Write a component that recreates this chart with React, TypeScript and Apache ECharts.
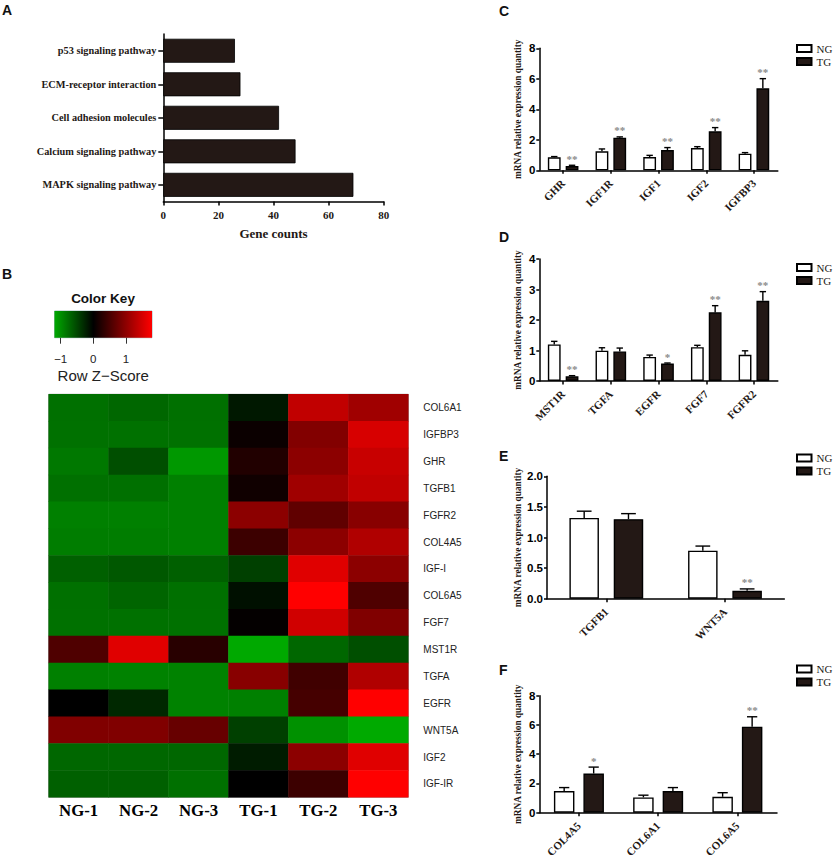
import * as echarts from "echarts";
import { useEffect, useRef } from "react";

const SERIF = "'Liberation Serif'";
const SANS = "'Liberation Sans'";
const INK = "#231815";

// panel A
const pathways = ["MAPK signaling pathway", "Calcium signaling pathway", "Cell adhesion molecules", "ECM-receptor interaction", "p53 signaling pathway"];
const geneCounts = [69, 48, 42, 28, 26];

// panel B
const samples = ["NG-1", "NG-2", "NG-3", "TG-1", "TG-2", "TG-3"];
const heatGenes = ["COL6A1", "IGFBP3", "GHR", "TGFB1", "FGFR2", "COL4A5", "IGF-I", "COL6A5", "FGF7", "MST1R", "TGFA", "EGFR", "WNT5A", "IGF2", "IGF-IR"];
const zScores = [
  [-0.79, -0.73, -0.79, -0.17, 1.36, 1.13],
  [-0.8, -0.8, -0.8, 0.08, 0.92, 1.52],
  [-0.85, -0.56, -1.07, 0.23, 0.99, 1.41],
  [-0.79, -0.79, -0.9, 0.11, 1.13, 1.36],
  [-0.9, -0.9, -0.9, 0.99, 0.68, 0.96],
  [-0.88, -0.88, -0.9, 0.42, 0.99, 1.24],
  [-0.68, -0.62, -0.68, -0.45, 1.58, 0.99],
  [-0.79, -0.71, -0.79, -0.11, 1.8, 0.56],
  [-0.8, -0.8, -0.8, 0.03, 1.47, 0.9],
  [0.56, 1.58, 0.28, -1.19, -0.73, -0.56],
  [-0.9, -0.92, -0.92, 0.96, 0.45, 1.24],
  [0, -0.28, -0.92, -0.9, 0.49, 1.8],
  [0.9, 0.9, 0.73, -0.45, -1.02, -1.2],
  [-0.73, -0.73, -0.73, -0.2, 0.99, 1.58],
  [-0.68, -0.68, -0.79, 0, 0.42, 1.8],
];
const keyRange = [-1.19, 1.8];
const keyTicks = [-1, 0, 1];

// panel C
const cGenes = ["GHR", "IGF1R", "IGF1", "IGF2", "IGFBP3"];
const cNG = [0.85, 1.25, 0.87, 1.46, 1.09];
const cNGTop = [0.9, 1.4, 0.98, 1.55, 1.16];
const cTG = [0.28, 2.14, 1.33, 2.56, 5.38];
const cTGTop = [0.33, 2.19, 1.49, 2.8, 6.01];
const cStars = ["**", "**", "**", "**", "**"];

// panel D
const dGenes = ["MST1R", "TGFA", "EGFR", "FGF7", "FGFR2"];
const dNG = [1.2, 0.995, 0.79, 1.11, 0.86];
const dNGTop = [1.3, 1.09, 0.85, 1.17, 0.99];
const dTG = [0.153, 0.97, 0.57, 2.25, 2.63];
const dTGTop = [0.175, 1.08, 0.59, 2.47, 2.93];
const dStars = ["**", "", "*", "**", "**"];

// panel E
const eGenes = ["TGFB1", "WNT5A"];
const eNG = [1.32, 0.785];
const eNGTop = [1.43, 0.86];
const eTG = [1.3, 0.13];
const eTGTop = [1.39, 0.16];
const eStars = ["", "**"];

// panel F
const fGenes = ["COL4A5", "COL6A1", "COL6A5"];
const fNG = [1.48, 1.05, 1.09];
const fNGTop = [1.72, 1.2, 1.37];
const fTG = [2.68, 1.48, 5.88];
const fTGTop = [3.12, 1.72, 6.56];
const fStars = ["*", "", "**"];

const errorSeries = (grid: number, values: number[], tops: number[], stars: string[], offset: number, cap: number) => ({
  type: "custom",
  xAxisIndex: grid,
  yAxisIndex: grid,
  z: 5,
  silent: true,
  clip: false,
  data: values.map((v, i) => [i, v, tops[i]]),
  renderItem: (params: any, api: any) => {
    const base = api.coord([api.value(0), api.value(1)]);
    const top = api.coord([api.value(0), api.value(2)]);
    const x = base[0] + offset;
    const style = { stroke: "#000", lineWidth: 1.4 };
    const children: any[] = [
      { type: "line", shape: { x1: x, y1: base[1], x2: x, y2: top[1] }, style },
      { type: "line", shape: { x1: x - cap / 2, y1: top[1], x2: x + cap / 2, y2: top[1] }, style },
    ];
    const star = stars[params.dataIndex];
    if (star) {
      children.push({
        type: "text",
        style: { text: star, x, y: top[1] - 1, fill: "#8a8a8a", font: `bold 11px ${SERIF}`, align: "center", verticalAlign: "bottom" },
      });
    }
    return { type: "group", children };
  },
});

interface BarPanel {
  box: [number, number, number, number];
  genes: string[];
  ng: number[];
  ngTop: number[];
  tg: number[];
  tgTop: number[];
  stars: string[];
  max: number;
  interval: number;
  digits: number;
  barWidth: number;
  gap: number;
  nameGap: number;
  legendTop: number;
}

const panels: BarPanel[] = [
  { box: [539.3, 48.3, 238.5, 122], genes: cGenes, ng: cNG, ngTop: cNGTop, tg: cTG, tgTop: cTGTop, stars: cStars, max: 8, interval: 2, digits: 0, barWidth: 12.8, gap: 5, nameGap: 16.6, legendTop: 43 },
  { box: [539.3, 259, 238.5, 122], genes: dGenes, ng: dNG, ngTop: dNGTop, tg: dTG, tgTop: dTGTop, stars: dStars, max: 4, interval: 1, digits: 0, barWidth: 12.8, gap: 5, nameGap: 16.6, legendTop: 262 },
  { box: [547, 476.3, 237.3, 122.4], genes: eGenes, ng: eNG, ngTop: eNGTop, tg: eTG, tgTop: eTGTop, stars: eStars, max: 2, interval: 0.5, digits: 1, barWidth: 29.5, gap: 14.8, nameGap: 24.3, legendTop: 452.5 },
  { box: [539.3, 695.7, 237.7, 122.3], genes: fGenes, ng: fNG, ngTop: fNGTop, tg: fTG, tgTop: fTGTop, stars: fStars, max: 8, interval: 2, digits: 0, barWidth: 20.5, gap: 9, nameGap: 16.6, legendTop: 663.5 },
];

const axisLine = { show: true, lineStyle: { color: "#000", width: 1.5 } };
const axisTick = (length: number) => ({ show: true, length, lineStyle: { color: "#000", width: 1.5 } });

const buildOption = () => {
  const grids: any[] = [];
  const xAxes: any[] = [];
  const yAxes: any[] = [];
  const series: any[] = [];
  const legends: any[] = [];

  panels.forEach((p, i) => {
    grids.push({ left: p.box[0], top: p.box[1], width: p.box[2], height: p.box[3] });
    xAxes.push({
      type: "category",
      gridIndex: i,
      data: p.genes,
      axisLine,
      axisTick: { ...axisTick(3.5), alignWithLabel: true },
      axisLabel: { rotate: 45, margin: 11, interval: 0, color: INK, fontFamily: SERIF, fontWeight: "bold", fontSize: 11 },
    });
    yAxes.push({
      type: "value",
      gridIndex: i,
      min: 0,
      max: p.max,
      interval: p.interval,
      splitLine: { show: false },
      axisLine,
      axisTick: axisTick(3),
      axisLabel: { margin: 4, color: "#000", fontFamily: SANS, fontWeight: "bold", fontSize: 11.5, formatter: (v: number) => v.toFixed(p.digits) },
      name: "mRNA relative expression quantity",
      nameLocation: "middle",
      nameRotate: 90,
      nameGap: p.nameGap,
      nameTextStyle: { color: INK, fontFamily: SERIF, fontWeight: "bold", fontSize: 9.3 },
    });
    const offset = (p.barWidth + p.gap) / 2;
    const barGap = `${(p.gap / p.barWidth) * 100}%`;
    series.push(
      {
        name: "NG",
        type: "bar",
        xAxisIndex: i,
        yAxisIndex: i,
        barWidth: p.barWidth,
        barGap,
        data: p.ng,
        itemStyle: { color: "#fff", borderColor: "#000", borderWidth: 1.4 },
      },
      {
        name: "TG",
        type: "bar",
        xAxisIndex: i,
        yAxisIndex: i,
        barWidth: p.barWidth,
        barGap,
        data: p.tg,
        itemStyle: { color: INK, borderColor: "#000", borderWidth: 1.4 },
      },
      errorSeries(i, p.ng, p.ngTop, p.ng.map(() => ""), -offset, p.barWidth / 2),
      errorSeries(i, p.tg, p.tgTop, p.stars, offset, p.barWidth / 2),
    );
    legends.push({
      data: ["NG", "TG"],
      orient: "vertical",
      left: 796,
      top: p.legendTop,
      icon: "rect",
      itemWidth: 14.5,
      itemHeight: 7,
      itemGap: 2,
      padding: 0,
      selectedMode: false,
      textStyle: { color: INK, fontFamily: SERIF, fontSize: 11 },
    });
  });

  // panel A, grid 4
  grids.push({ left: 163.3, top: 34, width: 220.4, height: 167.6 });
  xAxes.push({
    type: "value",
    gridIndex: 4,
    min: 0,
    max: 80,
    interval: 20,
    splitLine: { show: false },
    axisLine,
    axisTick: axisTick(4),
    axisLabel: { margin: 8, color: INK, fontFamily: SERIF, fontWeight: "bold", fontSize: 11 },
    name: "Gene counts",
    nameLocation: "middle",
    nameGap: 25.5,
    nameTextStyle: { color: INK, fontFamily: SERIF, fontWeight: "bold", fontSize: 13 },
  });
  yAxes.push({
    type: "category",
    gridIndex: 4,
    data: pathways,
    axisLine,
    axisTick: { ...axisTick(5), alignWithLabel: true },
    axisLabel: { margin: 7, interval: 0, color: INK, fontFamily: SERIF, fontWeight: "bold", fontSize: 10.3 },
  });
  series.push({
    type: "bar",
    xAxisIndex: 4,
    yAxisIndex: 4,
    barWidth: 24,
    data: geneCounts,
    itemStyle: { color: INK, borderColor: "#000", borderWidth: 0.8 },
  });

  // panel B heatmap, grid 5
  grids.push({ left: 48.7, top: 394.3, width: 359.6, height: 403, show: true, borderColor: "#999", borderWidth: 1 });
  xAxes.push({
    type: "category",
    gridIndex: 5,
    data: samples,
    axisLine: { show: false },
    axisTick: { show: false },
    axisLabel: { margin: 5, interval: 0, color: "#000", fontFamily: SERIF, fontWeight: "bold", fontSize: 16.8 },
  });
  yAxes.push({
    type: "category",
    gridIndex: 5,
    data: heatGenes,
    inverse: true,
    position: "right",
    axisLine: { show: false },
    axisTick: { show: false },
    axisLabel: { margin: 15, interval: 0, color: "#222", fontFamily: SANS, fontSize: 10 },
  });
  const heatSeriesIndex = series.length;
  const heatData: number[][] = [];
  zScores.forEach((row, r) => row.forEach((z, c) => heatData.push([c, r, z])));
  series.push({
    type: "heatmap",
    xAxisIndex: 5,
    yAxisIndex: 5,
    data: heatData,
    silent: true,
  });

  // colour key, grid 6
  grids.push({ left: 54.5, top: 311, width: 97.5, height: 26.7, show: true, borderColor: "#5a8a8a", borderWidth: 0.6 });
  xAxes.push({
    type: "value",
    gridIndex: 6,
    min: keyRange[0],
    max: keyRange[1],
    splitLine: { show: false },
    axisLine: { show: false },
    axisTick: { show: true, length: 6, customValues: keyTicks, lineStyle: { color: "#333", width: 1 } },
    axisLabel: {
      margin: 15,
      customValues: keyTicks,
      color: "#222",
      fontFamily: SANS,
      fontSize: 11.5,
      formatter: (v: number) => String(v).replace("-", "\u2212"),
    },
    name: "Row Z\u2212Score",
    nameLocation: "middle",
    nameGap: 30,
    nameTextStyle: { color: "#222", fontFamily: SANS, fontSize: 15 },
  });
  yAxes.push({ type: "value", gridIndex: 6, min: 0, max: 1, show: false });
  const greenEnd = Math.round((-keyRange[0] / keyRange[1]) * 255);
  series.push({
    type: "custom",
    xAxisIndex: 6,
    yAxisIndex: 6,
    silent: true,
    data: [[keyRange[0], keyRange[1]]],
    renderItem: (_: any, api: any) => {
      const a = api.coord([api.value(0), 1]);
      const b = api.coord([api.value(1), 0]);
      const span = api.value(1) - api.value(0);
      return {
        type: "rect",
        shape: { x: a[0], y: a[1], width: b[0] - a[0], height: b[1] - a[1] },
        style: {
          fill: new echarts.graphic.LinearGradient(0, 0, 1, 0, [
            { offset: 0, color: `rgb(0,${greenEnd},0)` },
            { offset: -api.value(0) / span, color: "#000" },
            { offset: 1, color: "#f00" },
          ]),
        },
      };
    },
  });

  const letter = (text: string, x: number, y: number) => ({
    type: "text",
    x,
    y,
    style: { text, fill: "#111", font: `bold 14px ${SANS}` },
  });

  return {
    animation: false,
    backgroundColor: "#fff",
    grid: grids,
    xAxis: xAxes,
    yAxis: yAxes,
    legend: legends,
    visualMap: {
      show: false,
      type: "continuous",
      seriesIndex: heatSeriesIndex,
      min: -1.8,
      max: 1.8,
      inRange: { color: ["#00ff00", "#000000", "#ff0000"] },
    },
    series,
    graphic: [
      letter("A", 2, 3),
      letter("B", 2, 267),
      letter("C", 499, 4),
      letter("D", 499, 230),
      letter("E", 499, 449),
      letter("F", 499, 663),
      {
        type: "text",
        x: 103,
        y: 298,
        style: { text: "Color Key", fill: "#111", font: `bold 13.5px ${SANS}`, align: "center", verticalAlign: "middle" },
      },
    ],
  };
};

export default function App() {
  const ref = useRef<HTMLDivElement | null>(null);

  useEffect(() => {
    document.body.style.margin = "0";
    const chart = echarts.init(ref.current, undefined, { renderer: "svg" });
    chart.setOption(buildOption());
    return () => chart.dispose();
  }, []);

  return <div ref={ref} style={{ width: 834, height: 860 }} />;
}
